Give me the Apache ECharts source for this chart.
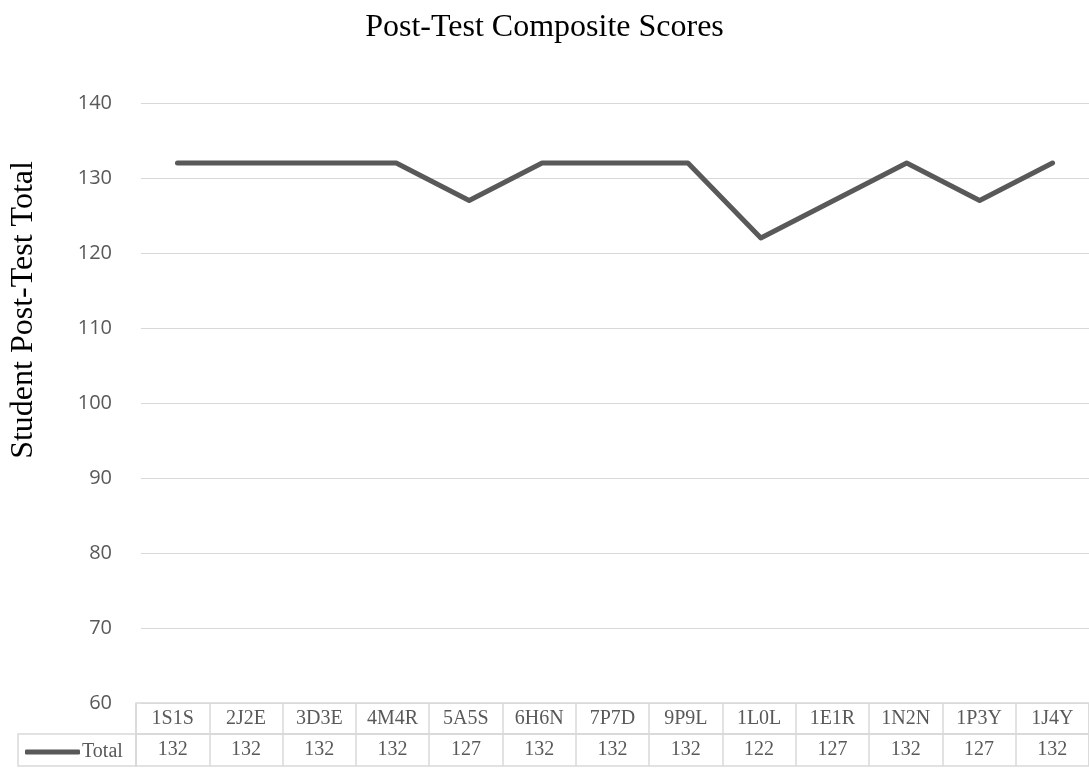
<!DOCTYPE html>
<html>
<head>
<meta charset="utf-8">
<script src="https://cdn.jsdelivr.net/npm/echarts@6/dist/echarts.min.js"></script>
<style>
  html, body { margin: 0; padding: 0; background: #fff; }
  #chart { width: 1089px; height: 768px; }
</style>
</head>
<body>
<div id="chart"></div>
<script>
const students = ['1S1S', '2J2E', '3D3E', '4M4R', '5A5S', '6H6N', '7P7D', '9P9L', '1L0L', '1E1R', '1N2N', '1P3Y', '1J4Y'];
const totals = [132, 132, 132, 132, 127, 132, 132, 132, 122, 127, 132, 127, 132];
const yTicks = [60, 70, 80, 90, 100, 110, 120, 130, 140];

const chart = echarts.init(document.getElementById('chart'));

const serif = 'Liberation Serif, Times New Roman, serif';
const gray = '#595959';
const border = '#d9d9d9';

// table rows share the plot's left/right so the columns line up with the points
const plotLeft = 136;
const plotRight = -7;

const option = {
  animation: false,
  title: {
    text: 'Post-Test Composite Scores',
    left: 'center',
    top: 7,
    textStyle: { fontFamily: serif, fontSize: 32, fontWeight: 'normal', color: '#000' }
  },
  legend: {
    left: 25,
    top: 742,
    padding: 0,
    icon: 'roundRect',
    itemWidth: 55,
    itemHeight: 5,
    itemGap: 0,
    textStyle: { fontFamily: serif, fontSize: 20, color: gray, padding: [0, 0, 0, -3] },
    data: ['Total']
  },
  grid: [
    { left: plotLeft, right: plotRight, top: 103, height: 600 },
    { left: plotLeft, right: plotRight, top: 703, height: 31, show: true, borderColor: border, borderWidth: 1.5 },
    { left: plotLeft, right: plotRight, top: 734, height: 32, show: true, borderColor: border, borderWidth: 1.5 },
    { left: 18, width: plotLeft - 18, top: 734, height: 32, show: true, borderColor: border, borderWidth: 1.5 }
  ],
  xAxis: [
    {
      gridIndex: 0, type: 'category', data: students, boundaryGap: true,
      axisLine: { show: false }, axisTick: { show: false }, axisLabel: { show: false }
    },
    {
      gridIndex: 1, type: 'category', data: students, boundaryGap: true,
      axisLine: { show: false }, axisTick: { show: false },
      splitLine: { show: true, lineStyle: { color: border, width: 1.5 } },
      axisLabel: { inside: true, margin: 15.5, verticalAlign: 'middle', fontFamily: serif, fontSize: 20, color: gray, interval: 0 }
    },
    {
      gridIndex: 2, type: 'category', data: totals.map(String), boundaryGap: true,
      axisLine: { show: false }, axisTick: { show: false },
      splitLine: { show: true, lineStyle: { color: border, width: 1.5 } },
      axisLabel: { inside: true, margin: 16, verticalAlign: 'middle', fontFamily: serif, fontSize: 20, color: gray, interval: 0 }
    },
    { gridIndex: 3, type: 'value', show: false }
  ],
  yAxis: [
    {
      gridIndex: 0, type: 'value', min: yTicks[0], max: yTicks[yTicks.length - 1], interval: 10,
      name: 'Student Post-Test Total',
      nameLocation: 'middle',
      nameGap: 101,
      // shifted up: the title sits above the plot's centre in the original
      nameTextStyle: { fontFamily: serif, fontSize: 32, color: '#000', padding: [0, 0, 0, 186] },
      axisLine: { show: false }, axisTick: { show: false },
      axisLabel: { margin: 29, fontFamily: 'Open Sans', fontSize: 20, color: gray },
      splitLine: { lineStyle: { color: border, width: 1 } }
    },
    { gridIndex: 1, type: 'value', show: false },
    { gridIndex: 2, type: 'value', show: false },
    { gridIndex: 3, type: 'value', show: false }
  ],
  series: [
    {
      name: 'Total',
      type: 'line',
      xAxisIndex: 0,
      yAxisIndex: 0,
      data: totals,
      showSymbol: false,
      symbol: 'none',
      color: gray,
      lineStyle: { color: gray, width: 5, cap: 'round', join: 'round' }
    }
  ]
};

chart.setOption(option);
</script>
</body>
</html>
